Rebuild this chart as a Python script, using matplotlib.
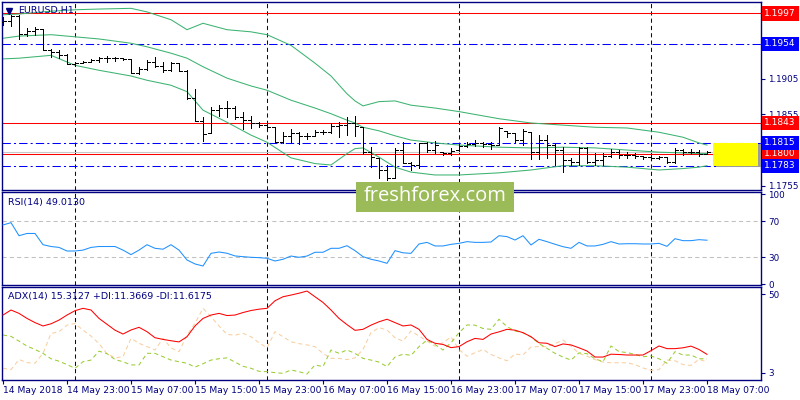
import matplotlib
matplotlib.use('Agg')
import matplotlib.pyplot as plt
import matplotlib.transforms as mtransforms
from matplotlib.collections import LineCollection
from matplotlib.patches import Rectangle
import numpy as np
import pandas as pd

# ---------------- data ----------------
bar_open = [1.1985, 1.1986, 1.1993, 1.1968, 1.1972, 1.1975, 1.1945, 1.1943, 1.1938, 1.1926,
            1.1927, 1.1929, 1.1932, 1.1934, 1.1934, 1.1934, 1.1933, 1.1913, 1.1919, 1.1929,
            1.1923, 1.1917, 1.1927, 1.1916, 1.1878, 1.1846, 1.1829, 1.1861, 1.1864, 1.1864,
            1.1851, 1.1847, 1.1843, 1.1840, 1.1837, 1.1816, 1.1825, 1.1829, 1.1825, 1.1825,
            1.1830, 1.1830, 1.1839, 1.1840, 1.1843, 1.1837, 1.1802, 1.1794, 1.1777, 1.1766,
            1.1805, 1.1787, 1.1784, 1.1815, 1.1805, 1.1802, 1.1801, 1.1805, 1.1811, 1.1814,
            1.1815, 1.1814, 1.1812, 1.1832, 1.1829, 1.1819, 1.1830, 1.1802, 1.1819, 1.1812,
            1.1805, 1.1791, 1.1788, 1.1808, 1.1788, 1.1791, 1.1797, 1.1802, 1.1798, 1.1798,
            1.1797, 1.1795, 1.1794, 1.1795, 1.1788, 1.1805, 1.1802, 1.1802, 1.1800]
bar_high = [1.1992, 1.1995, 1.1995, 1.1976, 1.1978, 1.1975, 1.1947, 1.1945, 1.1940, 1.1929,
            1.1930, 1.1933, 1.1936, 1.1937, 1.1936, 1.1934, 1.1933, 1.1922, 1.1932, 1.1936,
            1.1929, 1.1929, 1.1927, 1.1917, 1.1891, 1.1851, 1.1866, 1.1868, 1.1874, 1.1867,
            1.1859, 1.1853, 1.1844, 1.1843, 1.1837, 1.1830, 1.1835, 1.1830, 1.1829, 1.1833,
            1.1833, 1.1843, 1.1844, 1.1851, 1.1853, 1.1837, 1.1809, 1.1794, 1.1784, 1.1808,
            1.1816, 1.1788, 1.1815, 1.1816, 1.1818, 1.1802, 1.1808, 1.1815, 1.1816, 1.1819,
            1.1816, 1.1816, 1.1837, 1.1832, 1.1829, 1.1835, 1.1830, 1.1826, 1.1826, 1.1815,
            1.1809, 1.1794, 1.1809, 1.1809, 1.1801, 1.1801, 1.1807, 1.1805, 1.1802, 1.1801,
            1.1797, 1.1798, 1.1797, 1.1795, 1.1808, 1.1807, 1.1807, 1.1805, 1.1804]
bar_low = [1.1981, 1.1979, 1.1961, 1.1965, 1.1967, 1.1945, 1.1936, 1.1934, 1.1926, 1.1923,
           1.1927, 1.1929, 1.1929, 1.1929, 1.1930, 1.1932, 1.1913, 1.1912, 1.1917, 1.1922,
           1.1915, 1.1916, 1.1916, 1.1877, 1.1846, 1.1818, 1.1829, 1.1853, 1.1851, 1.1849,
           1.1835, 1.1836, 1.1837, 1.1833, 1.1815, 1.1815, 1.1815, 1.1814, 1.1821, 1.1825,
           1.1828, 1.1829, 1.1823, 1.1826, 1.1825, 1.1800, 1.1781, 1.1766, 1.1763, 1.1766,
           1.1787, 1.1777, 1.1780, 1.1802, 1.1801, 1.1798, 1.1798, 1.1805, 1.1809, 1.1811,
           1.1809, 1.1807, 1.1812, 1.1823, 1.1816, 1.1812, 1.1793, 1.1793, 1.1794, 1.1784,
           1.1774, 1.1784, 1.1784, 1.1787, 1.1784, 1.1784, 1.1795, 1.1794, 1.1794, 1.1794,
           1.1793, 1.1791, 1.1793, 1.1787, 1.1787, 1.1798, 1.1800, 1.1797, 1.1800]
bar_close = [1.1986, 1.1993, 1.1968, 1.1972, 1.1975, 1.1945, 1.1943, 1.1938, 1.1926, 1.1927,
             1.1929, 1.1932, 1.1934, 1.1934, 1.1934, 1.1933, 1.1913, 1.1919, 1.1929, 1.1923,
             1.1917, 1.1927, 1.1916, 1.1878, 1.1846, 1.1828, 1.1861, 1.1864, 1.1864, 1.1851,
             1.1847, 1.1843, 1.1840, 1.1837, 1.1816, 1.1825, 1.1829, 1.1825, 1.1825, 1.1830,
             1.1830, 1.1839, 1.1840, 1.1843, 1.1839, 1.1802, 1.1795, 1.1777, 1.1766, 1.1805,
             1.1787, 1.1784, 1.1815, 1.1805, 1.1812, 1.1801, 1.1804, 1.1811, 1.1814, 1.1815,
             1.1814, 1.1812, 1.1836, 1.1829, 1.1819, 1.1832, 1.1802, 1.1819, 1.1812, 1.1805,
             1.1791, 1.1788, 1.1808, 1.1788, 1.1791, 1.1797, 1.1802, 1.1798, 1.1798, 1.1797,
             1.1795, 1.1794, 1.1795, 1.1788, 1.1805, 1.1802, 1.1802, 1.1800, 1.1802]

first_bar_time = '2018-05-14 15:00'

bb_idx = [0, 2, 6, 9, 12, 16, 18, 21, 23, 25, 28, 31, 33, 36, 39, 41, 43, 44, 45, 47, 49,
          51, 54, 57, 62, 66, 70, 74, 78, 82, 85, 87, 88]
bb_upper = [1.1995, 1.1996, 1.2000, 1.2002, 1.2003, 1.2004, 1.1999, 1.1988, 1.1974, 1.1983,
            1.1974, 1.1971, 1.1967, 1.1952, 1.1927, 1.1909, 1.1884, 1.1874, 1.1867, 1.1873,
            1.1874, 1.1868, 1.1864, 1.1859, 1.1849, 1.1843, 1.1840, 1.1837, 1.1836, 1.1830,
            1.1823, 1.1815, 1.1812]
bb_middle = [1.1962, 1.1965, 1.1967, 1.1964, 1.1961, 1.1955, 1.1950, 1.1941, 1.1934, 1.1922,
             1.1906, 1.1895, 1.1889, 1.1875, 1.1864, 1.1856, 1.1847, 1.1843, 1.1837, 1.1832,
             1.1825, 1.1819, 1.1815, 1.1812, 1.1809, 1.1808, 1.1809, 1.1808, 1.1805, 1.1802,
             1.1801, 1.1800, 1.1800]
bb_lower = [1.1933, 1.1934, 1.1938, 1.1924, 1.1917, 1.1909, 1.1903, 1.1896, 1.1887, 1.1861,
            1.1844, 1.1826, 1.1816, 1.1794, 1.1786, 1.1784, 1.1800, 1.1807, 1.1808, 1.1795,
            1.1781, 1.1774, 1.1770, 1.1770, 1.1773, 1.1777, 1.1783, 1.1783, 1.1781, 1.1777,
            1.1779, 1.1781, 1.1783]

rsi = [66, 68.5, 54, 56.5, 56.5, 44, 42, 41, 37, 37,
       38, 41, 42, 42, 42, 38, 33, 38, 44, 40,
       39, 44, 38, 27, 22.6, 20.3, 34.4, 35.9, 34.5, 31.5,
       30.7, 30, 29.6, 28.9, 25.9, 27.8, 31.4, 30, 31.4, 35.6,
       35.6, 40, 40, 42.9, 37.4, 30.7, 27.8, 25.9, 23.3, 37.4,
       35, 34.4, 44.8, 46.6, 42.6, 42.6, 44.4, 45.5, 47.4, 46.6,
       46.6, 47, 54, 53, 49.2, 54, 43.7, 50, 47.4, 44.5,
       41.8, 40, 46.6, 42.6, 42.6, 44.4, 47.4, 44.8, 45.1, 45.1,
       44.8, 44.8, 45.5, 42.2, 50.7, 48.5, 48.5, 49.6, 49.0]

adx = [37.5, 40.5, 38.5, 35.5, 33, 31, 32.3, 34.5, 37.5, 40.1,
       41.5, 40.5, 35.5, 32, 28.5, 26.2, 28.6, 30.2, 27.6, 24,
       23, 22.2, 21.5, 24.6, 31, 35.5, 37.5, 38.5, 37.2, 37.5,
       39, 40.2, 41, 41.5, 46, 48.4, 49.4, 50.5, 51.8, 48.4,
       45, 40.5, 35.5, 31.8, 28.4, 29, 31.5, 33.5, 35, 33,
       31, 31.6, 29, 23, 20.7, 20, 18.1, 18.7, 21.6, 23.6,
       23, 26.2, 27.5, 29, 28.5, 27, 24.6, 21, 20.7, 18.7,
       20.3, 19.7, 18, 16.1, 12.5, 12.5, 14.2, 14, 13.7, 13.7,
       13.7, 16.3, 19.1, 17.5, 17.5, 18, 19, 17, 14.1]

plus_di = [25.6, 24.8, 22, 19, 17, 14.7, 11.5, 10, 8, 5.8,
           9.7, 10.7, 16, 14.5, 11, 9.7, 7.8, 7.8, 14.7, 14.7,
           12.7, 10.7, 9.7, 8.8, 6.5, 8.5, 10.7, 11.5, 12, 9.5,
           7, 5.8, 4, 3.8, 3.2, 2.8, 4.8, 3.8, 2.4, 7.8,
           6.8, 16.7, 14.7, 16.7, 14.7, 11.7, 10.7, 9.5, 6.8, 12.5,
           14.2, 13.5, 18.7, 22.6, 20, 16.7, 21, 27, 31.6, 31.5,
           29.5, 29, 35, 30.6, 28, 27, 24.5, 20.5, 17.7, 14.7,
           12.5, 10.7, 15, 14.5, 11.5, 9.7, 19.1, 15.7, 15.2, 14,
           12.7, 13.1, 11.5, 8.8, 15.7, 13.7, 13.7, 11.5, 11.4]

minus_di = [5.8, 5, 11, 9.2, 8.8, 14.7, 26.5, 27.6, 31.5, 32.5,
            28.5, 25, 20.5, 14.5, 12, 12.7, 23.6, 20.7, 18.7, 16.7,
            23.6, 18, 15.7, 25.6, 32.6, 41.5, 36.5, 31, 26, 25.5,
            26.6, 24.6, 21, 18, 27.6, 24.6, 21.6, 20.5, 19.7, 18.7,
            14.7, 11.7, 11.7, 11, 12, 17, 27, 30, 28.6, 24,
            22, 28, 25, 22, 19, 21, 24.5, 17, 13, 15,
            17, 14, 12, 10.3, 14.3, 13.7, 18.5, 18.7, 18.7, 20.5,
            22.6, 19, 14.7, 13, 11, 9.5, 9.1, 9.1, 9.1, 8,
            6, 4.5, 5, 10.7, 10.3, 8, 7.5, 11.1, 9.7]

red_levels = [1.1997, 1.1843, 1.1800]
blue_levels = [1.1954, 1.1815, 1.1783]
price_ticks = [1.1905, 1.1855, 1.1755]
rsi_ticks = [100, 70, 30, 0]
rsi_levels = [70, 30]
adx_ticks = [50, 3]

title_text = 'EURUSD,H1'
rsi_text = 'RSI(14) 49.0130'
adx_text = 'ADX(14) 15.3127 +DI:11.3669 -DI:11.6175'
watermark = 'freshforex.com'

# ---------------- style ----------------
NAVY = '#000080'
BB_COLOR = '#3CB371'
FS = 6.3
LW = 0.75  # about one pixel at 100 dpi

n = len(bar_close)
idx = np.arange(n)
times = pd.date_range(first_bar_time, periods=n, freq='h')

fig = plt.figure(figsize=(8, 4), dpi=100)
fig.patch.set_facecolor('white')


def fbox(x0, y0, x1, y1):
    return [x0 / 800, 1 - y1 / 400, (x1 - x0) / 800, (y1 - y0) / 400]


ax_p = fig.add_axes(fbox(2, 2, 761, 190))
ax_r = fig.add_axes(fbox(2, 192, 761, 285))
ax_a = fig.add_axes(fbox(2, 287, 761, 380))

xlim = (-0.125, 94.75)
for ax in (ax_p, ax_r, ax_a):
    ax.set_xlim(*xlim)
    ax.set_facecolor('white')
    for s in ax.spines.values():
        s.set_color(NAVY)
        s.set_linewidth(1.0)
    ax.yaxis.tick_right()
    ax.tick_params(axis='y', direction='out', length=3, width=0.8, color=NAVY,
                   labelcolor=NAVY, labelsize=FS, pad=2)
    ax.tick_params(axis='x', which='both', bottom=False, top=False, labelbottom=False)
    # day separators
    for i, t in enumerate(times):
        if t.hour == 0:
            ax.axvline(i, color=NAVY, lw=LW, ls=(0, (4, 3)), zorder=1)

# ---- price panel ----
ax_p.set_ylim(1.17489, 1.20129)
for lv in red_levels:
    ax_p.axhline(lv, color='#FF0000', lw=LW, zorder=1.5)
for lv in blue_levels:
    ax_p.axhline(lv, color='#0000FF', lw=LW, ls=(0, (8, 3, 2, 3)), zorder=1.5)
ax_p.axhline(bar_close[-1], color='#C8C8C8', lw=LW, zorder=1.4)

ax_p.plot(bb_idx, bb_upper, color=BB_COLOR, lw=LW, zorder=2)
ax_p.plot(bb_idx, bb_middle, color=BB_COLOR, lw=LW, zorder=2)
ax_p.plot(bb_idx, bb_lower, color=BB_COLOR, lw=LW, zorder=2)

segs = []
tk = 0.35
for i in range(n):
    segs.append([(i, bar_low[i]), (i, bar_high[i])])
    segs.append([(i - tk, bar_open[i]), (i, bar_open[i])])
    segs.append([(i, bar_close[i]), (i + tk, bar_close[i])])
ax_p.add_collection(LineCollection(segs, colors='black', linewidths=0.72,
                                   antialiased=False, zorder=3))

ax_p.set_yticks(price_ticks)
ax_p.set_yticklabels([f'{v:.4f}' for v in price_ticks])

trans_p = mtransforms.blended_transform_factory(ax_p.transAxes, ax_p.transData)
for lv in red_levels:
    ax_p.text(1.0045, lv, f'{lv:.4f}', transform=trans_p, color='white', fontsize=FS + 0.2,
              va='center', ha='left', clip_on=False, zorder=5,
              bbox=dict(boxstyle='square,pad=0.3', fc='#FF0000', ec='none'))
for lv in blue_levels:
    ax_p.text(1.0045, lv, f'{lv:.4f}', transform=trans_p, color='white', fontsize=FS + 0.2,
              va='center', ha='left', clip_on=False, zorder=5,
              bbox=dict(boxstyle='square,pad=0.3', fc='#0000FF', ec='none'))

# yellow zone with shadow, right of the last bar
zx0 = n - 1 + 0.75
zw = xlim[1] - 0.4 - zx0
zlow, zhigh = blue_levels[2], blue_levels[1]
ax_p.add_patch(Rectangle((zx0 + 0.35, zlow - 0.0002), zw, zhigh - zlow, fc='#9A9A9A',
                         ec='none', zorder=4, clip_on=False))
ax_p.add_patch(Rectangle((zx0, zlow), zw, zhigh - zlow, fc='#FFFF00', ec='none', zorder=4.5,
                         clip_on=False))

ax_p.text((18 - 2) / 759, 1 - (10 - 2) / 188, title_text, transform=ax_p.transAxes,
          color=NAVY, fontsize=FS + 0.5, va='center', ha='left', zorder=6)
ax_p.plot([(9 - 2) / 759], [1 - (11 - 2) / 188], marker='v', color=NAVY, markersize=4.2,
          transform=ax_p.transAxes, zorder=6, clip_on=False)

# ---- RSI panel ----
ax_r.set_ylim(-0.8, 102.6)
for lv in rsi_levels:
    ax_r.axhline(lv, color='#C0C0C0', lw=LW, ls=(0, (4, 3)), zorder=1)
ax_r.plot(idx, rsi, color='#1E90FF', lw=LW, zorder=3)
ax_r.set_yticks(rsi_ticks)
ax_r.set_yticklabels([str(v) for v in rsi_ticks])
ax_r.text(6 / 759, 1 - 10 / 93, rsi_text, transform=ax_r.transAxes, color=NAVY,
          fontsize=FS + 0.5, va='center', ha='left')

# ---- ADX panel ----
ax_a.set_ylim(-1.17, 54.2)
ax_a.plot(idx, minus_di, color='#F8CFA0', lw=LW, ls=(0, (4, 3)), zorder=2)
ax_a.plot(idx, plus_di, color='#9ACD32', lw=LW, ls=(0, (4, 3)), zorder=2.5)
ax_a.plot(idx, adx, color='#FF0000', lw=LW, zorder=3)
ax_a.set_yticks(adx_ticks)
ax_a.set_yticklabels([str(v) for v in adx_ticks])
ax_a.text(6 / 759, 1 - 10 / 93, adx_text, transform=ax_a.transAxes, color=NAVY,
          fontsize=FS + 0.5, va='center', ha='left')

label_pos = [i for i in range(n) if i % 8 == 0]
labels = []
for k, i in enumerate(label_pos):
    t = times[i]
    labels.append(t.strftime('%d %b %Y') if k == 0 else t.strftime('%d %b %H:%M'))
ax_a.set_xticks(label_pos)
ax_a.set_xticklabels(labels)
ax_a.tick_params(axis='x', bottom=True, labelbottom=True, direction='out', length=3,
                 width=0.8, color=NAVY, labelcolor=NAVY, labelsize=FS + 0.3, pad=1.5)
for lab in ax_a.get_xticklabels():
    lab.set_ha('left')

# ---- watermark ----
fig.add_artist(Rectangle((356 / 800, 1 - 212 / 400), 158 / 800, 30 / 400,
                         transform=fig.transFigure, fc='#9BBB59', ec='none', zorder=10))
fig.text((356 + 514) / 2 / 800, 1 - 196 / 400, watermark, color='white',
         fontsize=14.5, family=['Open Sans', 'DejaVu Sans'], ha='center', va='center',
         zorder=11)

fig.savefig('out.png', dpi=100, facecolor='white')
